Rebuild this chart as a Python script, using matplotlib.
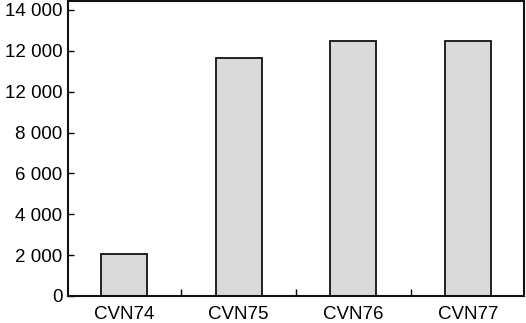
import matplotlib
matplotlib.use("Agg")
import matplotlib.pyplot as plt

ships = ["CVN74", "CVN75", "CVN76", "CVN77"]
values = [2050, 11630, 12500, 12500]
ytick_vals = [0, 2000, 4000, 6000, 8000, 10000, 12000, 14000]
ytick_labels = ["0", "2 000", "4 000", "6 000", "8 000", "12 000", "12 000", "14 000"]

plt.rcParams["font.family"] = ["Liberation Sans", "DejaVu Sans"]

fig = plt.figure(figsize=(5.26, 3.23), dpi=100)
ax = fig.add_axes([68 / 526, 27 / 323, 456 / 526, 295 / 323])

x = list(range(len(ships)))
ax.bar(x, values, width=0.4, color="#dadada", edgecolor="#111111", linewidth=1.3)

ax.set_xlim(-0.49, 3.49)
ax.set_ylim(0, 14440)

ax.set_yticks(ytick_vals)
ax.set_yticklabels(ytick_labels, fontsize=13.5)
ax.set_xticks(x)
ax.set_xticklabels(ships, fontsize=13.5)
ax.tick_params(axis="x", length=0, pad=7.5)
ax.tick_params(axis="y", direction="in", length=4, width=1, pad=4)

# small marks between the categories
ax.set_xticks([0.5, 1.5, 2.5], minor=True)
ax.tick_params(axis="x", which="minor", direction="in", length=5, width=1)

for s in ax.spines.values():
    s.set_linewidth(1.5)
    s.set_color("#111111")

fig.savefig("out.png", dpi=100)
